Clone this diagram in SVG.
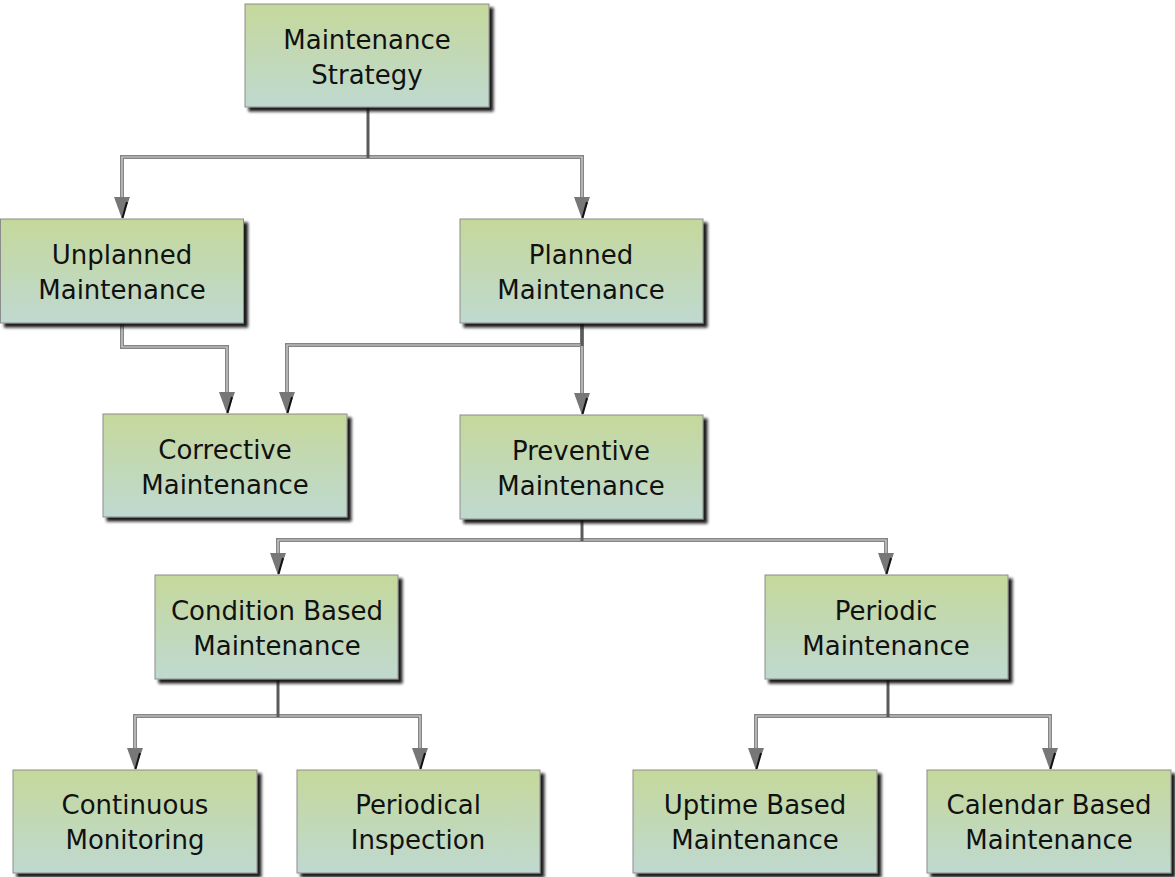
<svg xmlns="http://www.w3.org/2000/svg" xmlns:xlink="http://www.w3.org/1999/xlink" width="1175" height="877" viewBox="0 0 1175 877">
  <style>
    .box { fill: url(#boxFill); stroke: #8c8c8c; stroke-width: 1; filter: url(#shadow); }
    .label { font-family: "DejaVu Sans", Verdana, sans-serif; font-size: 26px; fill: #111; text-anchor: middle; }
    .wire { fill: none; stroke: #858585; stroke-width: 4; stroke-linejoin: miter; }
    .wire-core { fill: none; stroke: #d4d4d4; stroke-width: 1.2; }
    .stem { fill: none; stroke: #5a5a5a; stroke-width: 3; }
  </style>
  <defs>
    <linearGradient id="boxFill" x1="0" y1="0" x2="0" y2="1">
      <stop offset="0" stop-color="#c5d89b"/>
      <stop offset="1" stop-color="#bfd9d0"/>
    </linearGradient>
    <filter id="shadow" x="-10%" y="-10%" width="125%" height="130%">
      <feDropShadow dx="4" dy="4" stdDeviation="1.4" flood-color="#111" flood-opacity="0.95"/>
    </filter>
    <g id="arrow">
      <polygon points="-8,-22 8,-22 0,0" fill="#777"/>
      <line x1="5" y1="-17" x2="0.5" y2="-1" stroke="#111" stroke-width="2"/>
    </g>
  </defs>

  <rect width="1175" height="877" fill="#fff"/>

  <!-- connectors -->
  <g id="connectors">
    <path class="wire" d="M122,199 V157 H582 V199"/>
    <path class="wire-core" d="M122,199 V157 H582 V199"/>
    <path class="stem" d="M368,107 V158"/>

    <path class="wire" d="M122,323 V347 H227 V394"/>
    <path class="wire-core" d="M122,323 V347 H227 V394"/>

    <path class="wire" d="M582,345 H287 V394 M582,323 V395"/>
    <path class="wire-core" d="M582,345 H287 V394 M582,345 V395"/>
    <path class="stem" d="M582,323 V346"/>

    <path class="wire" d="M278,555 V540 H886 V555"/>
    <path class="wire-core" d="M278,555 V540 H886 V555"/>
    <path class="stem" d="M582,519 V541"/>

    <path class="wire" d="M135,750 V716 H420 V750"/>
    <path class="wire-core" d="M135,750 V716 H420 V750"/>
    <path class="stem" d="M278,679 V717"/>

    <path class="wire" d="M756,750 V716 H1050 V750"/>
    <path class="wire-core" d="M756,750 V716 H1050 V750"/>
    <path class="stem" d="M888,679 V717"/>

    <use xlink:href="#arrow" x="122" y="219"/>
    <use xlink:href="#arrow" x="582" y="219"/>
    <use xlink:href="#arrow" x="227" y="414"/>
    <use xlink:href="#arrow" x="287" y="414"/>
    <use xlink:href="#arrow" x="582" y="415"/>
    <use xlink:href="#arrow" x="278" y="575"/>
    <use xlink:href="#arrow" x="886" y="575"/>
    <use xlink:href="#arrow" x="135" y="770"/>
    <use xlink:href="#arrow" x="420" y="770"/>
    <use xlink:href="#arrow" x="756" y="770"/>
    <use xlink:href="#arrow" x="1050" y="770"/>
  </g>

  <!-- nodes -->
  <g id="maintenance-strategy">
    <rect class="box" x="245" y="4" width="244" height="103"/>
    <text class="label" x="367" y="49">Maintenance</text>
    <text class="label" x="367" y="84">Strategy</text>
  </g>
  <g id="unplanned-maintenance">
    <rect class="box" x="0.5" y="219" width="243" height="104"/>
    <text class="label" x="122" y="264">Unplanned</text>
    <text class="label" x="122" y="299">Maintenance</text>
  </g>
  <g id="planned-maintenance">
    <rect class="box" x="460" y="219" width="243" height="104"/>
    <text class="label" x="581" y="264">Planned</text>
    <text class="label" x="581" y="299">Maintenance</text>
  </g>
  <g id="corrective-maintenance">
    <rect class="box" x="103" y="414" width="244" height="103"/>
    <text class="label" x="225" y="459">Corrective</text>
    <text class="label" x="225" y="494">Maintenance</text>
  </g>
  <g id="preventive-maintenance">
    <rect class="box" x="460" y="415" width="243" height="104"/>
    <text class="label" x="581" y="460">Preventive</text>
    <text class="label" x="581" y="495">Maintenance</text>
  </g>
  <g id="condition-based-maintenance">
    <rect class="box" x="155" y="575" width="243" height="104"/>
    <text class="label" x="277" y="620">Condition Based</text>
    <text class="label" x="277" y="655">Maintenance</text>
  </g>
  <g id="periodic-maintenance">
    <rect class="box" x="765" y="575" width="243" height="104"/>
    <text class="label" x="886" y="620">Periodic</text>
    <text class="label" x="886" y="655">Maintenance</text>
  </g>
  <g id="continuous-monitoring">
    <rect class="box" x="13" y="770" width="244" height="103"/>
    <text class="label" x="135" y="814">Continuous</text>
    <text class="label" x="135" y="849">Monitoring</text>
  </g>
  <g id="periodical-inspection">
    <rect class="box" x="297" y="770" width="243" height="103"/>
    <text class="label" x="418" y="814">Periodical</text>
    <text class="label" x="418" y="849">Inspection</text>
  </g>
  <g id="uptime-based-maintenance">
    <rect class="box" x="633" y="770" width="244" height="103"/>
    <text class="label" x="755" y="814">Uptime Based</text>
    <text class="label" x="755" y="849">Maintenance</text>
  </g>
  <g id="calendar-based-maintenance">
    <rect class="box" x="927" y="770" width="244" height="103"/>
    <text class="label" x="1049" y="814">Calendar Based</text>
    <text class="label" x="1049" y="849">Maintenance</text>
  </g>
</svg>
